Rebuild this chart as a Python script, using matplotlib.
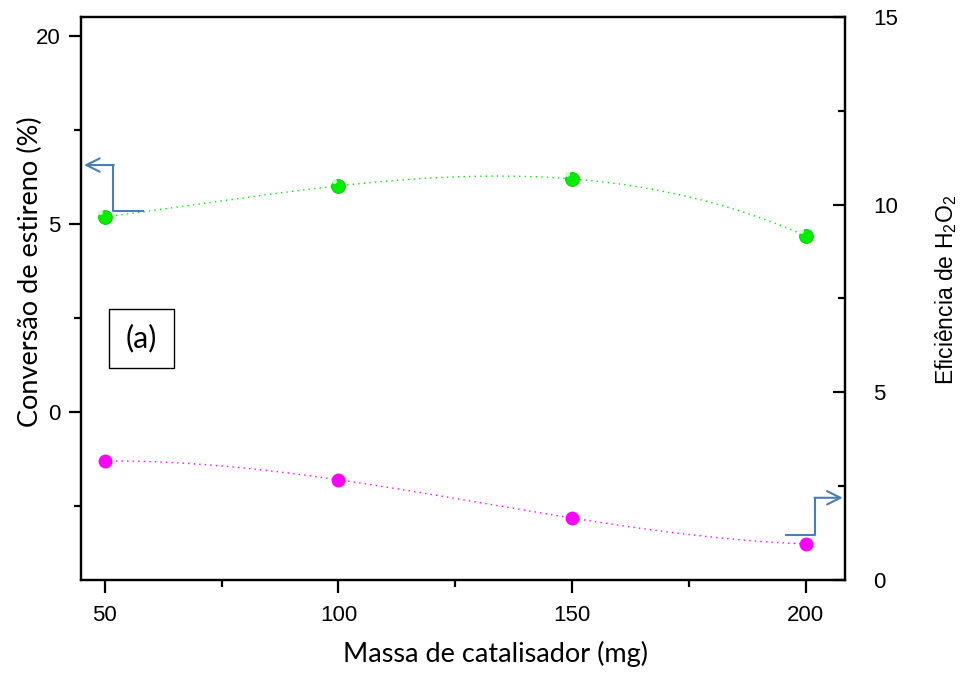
import matplotlib.pyplot as plt
import numpy as np
from matplotlib.patches import Rectangle
from matplotlib.ticker import MultipleLocator

plt.rcParams['mathtext.fontset'] = 'custom'
plt.rcParams['mathtext.rm'] = 'Liberation Sans'
plt.rcParams['mathtext.it'] = 'Liberation Sans'

# catalyst mass (mg)
massa = [50, 100, 150, 200]
# styrene conversion (left axis, drawn scale)
conversao = [10.37, 12.02, 12.39, 9.36]
# H2O2 efficiency (right axis)
eficiencia = [3.17, 2.67, 1.65, 0.96]
# left tick positions and their printed labels
left_ticks = [0, 10, 20]
left_labels = ['0', '5', '20']

green = '#00e600'
magenta = '#ff00ff'
blue = '#4a7ebb'
tick_font = 'Liberation Sans'
label_font = 'Lato'

fig = plt.figure(figsize=(9.63, 6.74), dpi=100)
ax = fig.add_axes([0.0841, 0.1395, 0.7934, 0.8353])
ax2 = ax.twinx()

# smooth dotted curves through the points (cubic through the 4 points)
xs = np.linspace(massa[0], massa[-1], 200)
cg = np.polyfit(massa, conversao, 3)
cm = np.polyfit(massa, eficiencia, 3)
ax.plot(xs, np.polyval(cg, xs), color=green, linestyle=(0, (1, 3)), linewidth=1.0)
ax2.plot(xs, np.polyval(cm, xs), color=magenta, linestyle=(0, (1, 3)), linewidth=1.0)

# green balls with a highlight, flat magenta dots
ax.plot(massa, conversao, 'o', color='#00ee00', markersize=10, markeredgecolor='#10c010',
        markeredgewidth=0.6, zorder=5)
ax.plot(np.array(massa) - 1.0, np.array(conversao) + 0.25, 'o', color='#c8ffc8',
        markersize=3.5, markeredgewidth=0, zorder=6)
ax2.plot(massa, eficiencia, 'o', color=magenta, markersize=10, markeredgewidth=0, zorder=5)

ax.set_xlim(44.9, 208.4)
ax.set_ylim(-8.94, 21.0)
ax2.set_ylim(0, 15)

ax.set_xticks(massa)
ax.xaxis.set_minor_locator(MultipleLocator(25))
ax.set_yticks(left_ticks)
ax.set_yticklabels(left_labels)
ax.yaxis.set_minor_locator(MultipleLocator(5))
ax2.set_yticks([0, 5, 10, 15])
ax2.yaxis.set_minor_locator(MultipleLocator(2.5))

for a in (ax, ax2):
    for s in a.spines.values():
        s.set_linewidth(1.6)

ax.tick_params(axis='x', which='major', direction='out', length=9, width=1.6, pad=9,
               labelsize=16, top=False)
ax.tick_params(axis='x', which='minor', direction='out', length=5, width=1.6, top=False)
ax.tick_params(axis='y', which='major', direction='out', length=9, width=1.6, pad=6, labelsize=16)
ax.tick_params(axis='y', which='minor', direction='out', length=5, width=1.6)
ax2.tick_params(axis='y', which='major', direction='in', length=9, width=1.6, pad=20, labelsize=16)
ax2.tick_params(axis='y', which='minor', direction='in', length=5, width=1.6)
for lab in ax.get_xticklabels() + ax.get_yticklabels() + ax2.get_yticklabels():
    lab.set_fontfamily(tick_font)

ax.set_xlabel('Massa de catalisador (mg)', fontsize=19.5, fontfamily=label_font)
ax.xaxis.set_label_coords(0.542, -0.108)
ax.set_ylabel('Conversão de estireno (%)', fontsize=19.5, fontfamily=label_font)
ax.yaxis.set_label_coords(-0.050, 0.547)
ax2.set_ylabel('Eficiência de H$_2$O$_2$', fontsize=16.5, fontfamily=tick_font)
ax2.yaxis.set_label_coords(1.115, 0.515)

# axis-pointing arrows
ax.plot([0.081, 0.042, 0.042], [0.655, 0.655, 0.737], color=blue, lw=1.5,
        transform=ax.transAxes, clip_on=False)
ax.annotate('', xy=(0.004, 0.737), xytext=(0.043, 0.737), xycoords='axes fraction',
            arrowprops=dict(arrowstyle='->', color=blue, lw=1.5, mutation_scale=24,
                            shrinkA=0, shrinkB=0))
ax.plot([0.923, 0.961, 0.961], [0.080, 0.080, 0.146], color=blue, lw=1.5,
        transform=ax.transAxes, clip_on=False)
ax.annotate('', xy=(0.997, 0.146), xytext=(0.960, 0.146), xycoords='axes fraction',
            arrowprops=dict(arrowstyle='->', color=blue, lw=1.5, mutation_scale=24,
                            shrinkA=0, shrinkB=0))

# panel label
ax.add_patch(Rectangle((0.037, 0.377), 0.085, 0.104, transform=ax.transAxes,
                       fill=False, edgecolor='black', linewidth=1.0))
ax.text(0.0795, 0.429, '(a)', transform=ax.transAxes, ha='center', va='center',
        fontsize=22, fontfamily=label_font)

fig.savefig('out.png', dpi=100)
